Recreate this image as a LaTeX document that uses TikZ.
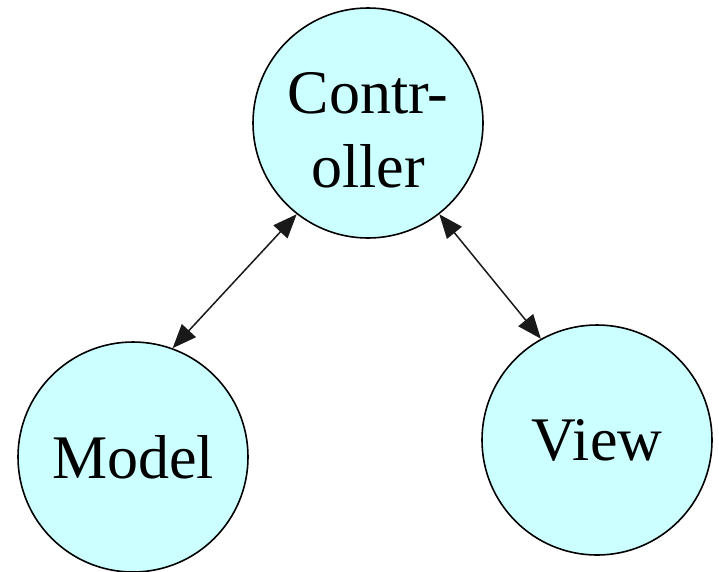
\documentclass[tikz,border=0pt]{standalone}
\usepackage{fontspec}
\setmainfont{Liberation Serif}
\definecolor{mvccyan}{HTML}{CCFFFF}
\usetikzlibrary{arrows.meta,positioning}

\begin{document}
\begin{tikzpicture}[x=1pt,y=-1pt,
  mvcnode/.style={draw,circle,line width=1.6pt,fill=mvccyan,minimum size=230pt,inner sep=0pt,
    align=center,font=\fontsize{62}{74}\selectfont},
  mvcarrow/.style={{Triangle[length=24pt,width=19pt]}-{Triangle[length=24pt,width=19pt]},line width=1.5pt,black!90}
]
  \useasboundingbox (0,0) rectangle (719,571);
  % Nodes
  \node[mvcnode,text height=130pt] (ctrl) at (368,123) {Contr-\\oller};
  \node[mvcnode] (model) at (133,457) {Model};
  \node[mvcnode] (view) at (597,440) {View};
  % Arrows
  \draw[mvcarrow] (model.70) -- (ctrl.232);
  \draw[mvcarrow] (ctrl.308) -- (view.119);
\end{tikzpicture}
\end{document}
